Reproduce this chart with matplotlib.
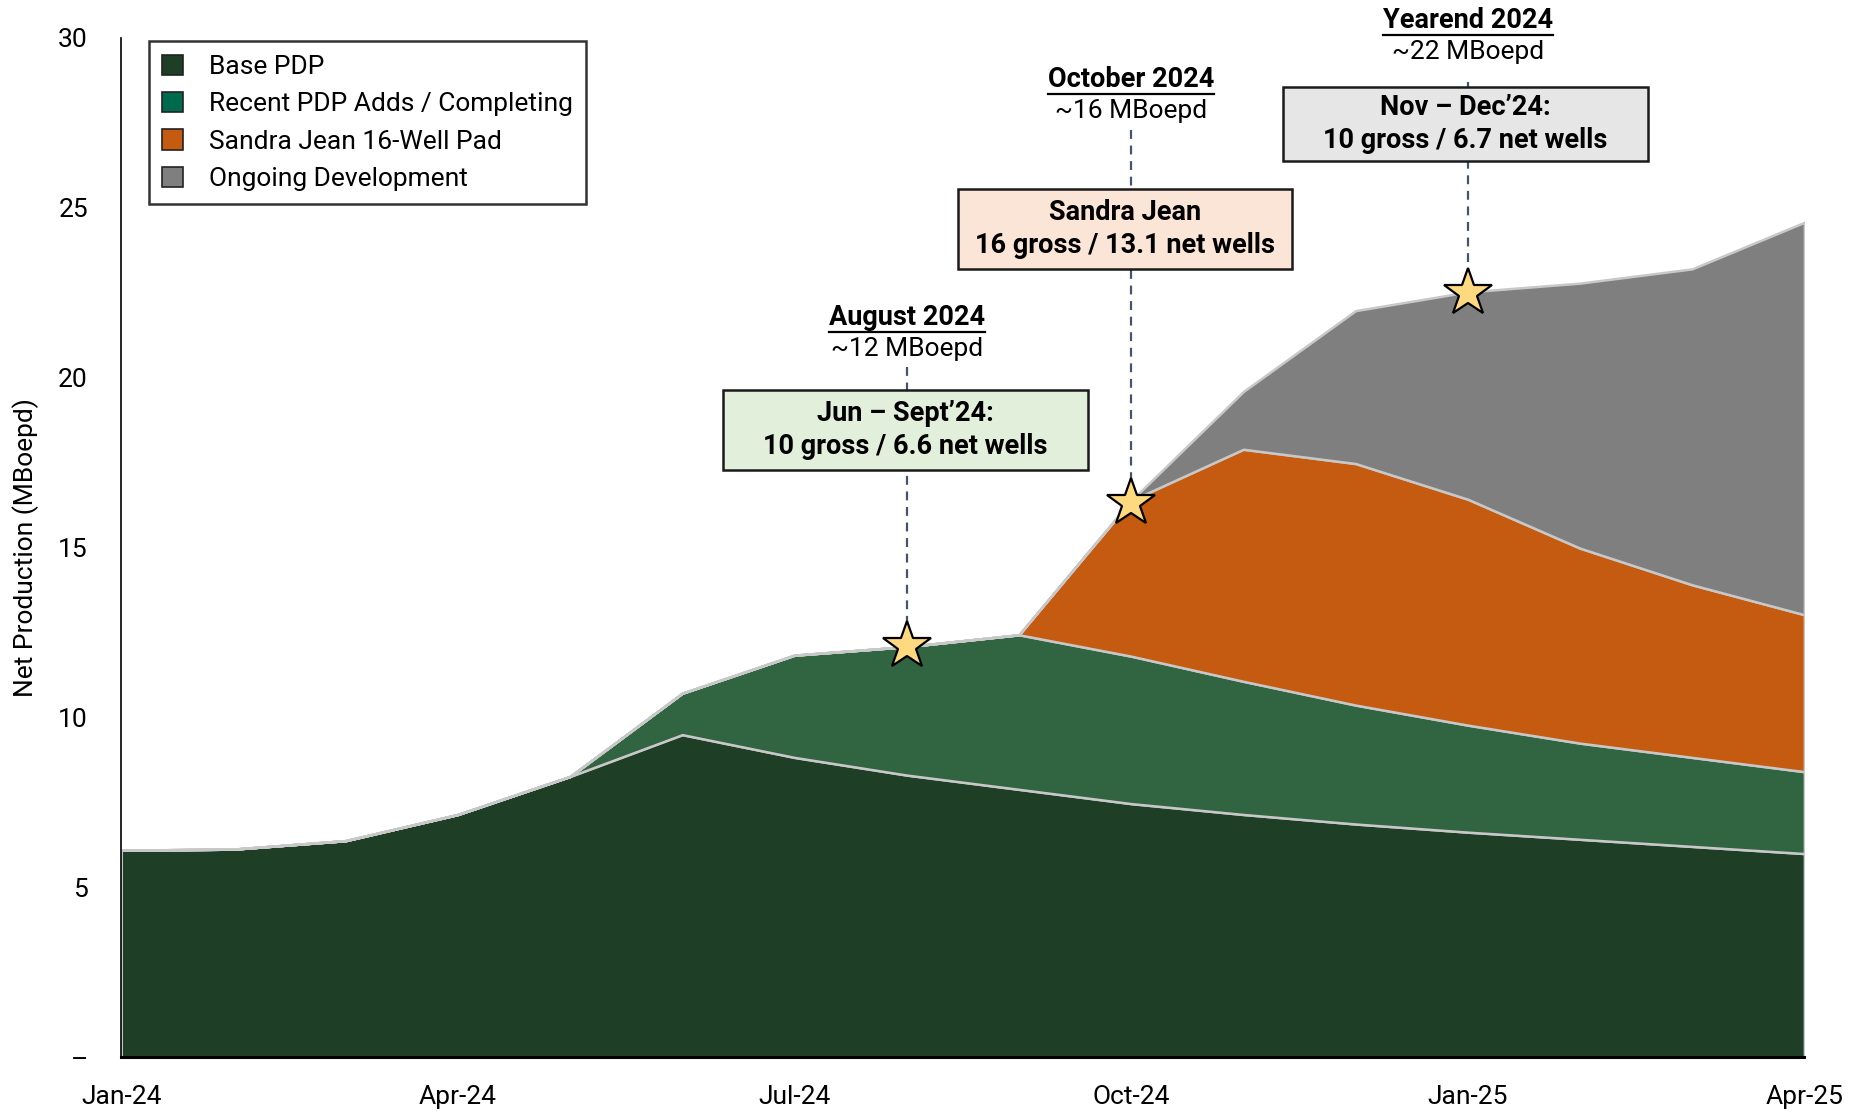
import matplotlib
matplotlib.use("Agg")
import matplotlib.pyplot as plt
import numpy as np
from matplotlib.patches import Patch, Rectangle
from matplotlib.lines import Line2D

plt.rcParams['font.family'] = ['Roboto', 'DejaVu Sans']

months = ["Jan-24", "Feb-24", "Mar-24", "Apr-24", "May-24", "Jun-24", "Jul-24", "Aug-24",
          "Sep-24", "Oct-24", "Nov-24", "Dec-24", "Jan-25", "Feb-25", "Mar-25", "Apr-25"]
base_pdp = [6.09, 6.12, 6.37, 7.14, 8.26, 9.49, 8.82, 8.30, 7.88, 7.46, 7.14, 6.86, 6.62, 6.41, 6.20, 5.99]
recent_pdp = [0, 0, 0, 0, 0, 1.22, 3.01, 3.78, 4.55, 4.34, 3.92, 3.50, 3.15, 2.83, 2.62, 2.41]
sandra_jean = [0, 0, 0, 0, 0, 0, 0, 0, 0, 4.58, 6.83, 7.11, 6.65, 5.74, 5.08, 4.62]
ongoing = [0, 0, 0, 0, 0, 0, 0, 0, 0, 0, 1.70, 4.50, 6.10, 7.80, 9.30, 11.55]
series_names = ["Base PDP", "Recent PDP Adds / Completing", "Sandra Jean 16-Well Pad", "Ongoing Development"]
tick_months = ["Jan-24", "Apr-24", "Jul-24", "Oct-24", "Jan-25", "Apr-25"]
y_ticks = [0, 5, 10, 15, 20, 25, 30]
y_tick_labels = ["–", "5", "10", "15", "20", "25", "30"]

star_months = ["Aug-24", "Oct-24", "Jan-25"]
star_values = [12.1, 16.3, 22.5]
headers = ["August 2024", "October 2024", "Yearend 2024"]
subheaders = ["~12 MBoepd", "~16 MBoepd", "~22 MBoepd"]
box_texts = ["Jun – Sept’24:\n10 gross / 6.6 net wells",
             "Sandra Jean\n16 gross / 13.1 net wells",
             "Nov – Dec’24:\n10 gross / 6.7 net wells"]

area_colors = ["#1E3F26", "#316440", "#C55A11", "#7F7F7F"]
legend_colors = ["#1E3F26", "#006A4E", "#C55A11", "#7F7F7F"]
box_colors = ["#E2EFDA", "#FBE5D6", "#E6E6E6"]

fig = plt.figure(figsize=(18.65, 11.12), dpi=100)
ax = fig.add_axes([0.065, 0.0494, 0.9025, 0.9166])

x = np.arange(len(months))
ax.stackplot(x, base_pdp, recent_pdp, sandra_jean, ongoing, colors=area_colors,
             edgecolor="#C8C8C8", linewidth=1.8, zorder=2)

ax.set_xlim(0, len(months) - 1)
ax.set_ylim(0, 30)
ax.set_xticks([months.index(m) for m in tick_months])
ax.set_xticklabels(tick_months, fontsize=19)
ax.set_yticks(y_ticks)
ax.set_yticklabels(y_tick_labels, fontsize=19)
ax.tick_params(axis='both', length=0)
ax.tick_params(axis='x', pad=20)
ax.tick_params(axis='y', pad=24)
for s in ["top", "right"]:
    ax.spines[s].set_visible(False)
ax.spines["left"].set_linewidth(1.2)
ax.spines["bottom"].set_linewidth(2.2)
ax.spines["left"].set_zorder(5)
ax.spines["bottom"].set_zorder(5)
ax.set_ylabel("Net Production (MBoepd)", fontsize=19, labelpad=14)

# annotation geometry (layout, in data units)
box_x = [(5.36, 8.62), (7.46, 10.43), (10.35, 13.61)]
box_y = [(17.29, 19.64), (23.21, 25.55), (26.36, 28.56)]
header_y = [21.77, 28.77, 30.52]
line_top = [20.3, 27.3, 28.7]

header_texts = []
for i in range(3):
    xm = months.index(star_months[i])
    ax.plot([xm, xm], [line_top[i], star_values[i] + 0.4], linestyle=(0, (4, 3)),
            color="#44546A", linewidth=1.6, zorder=3, clip_on=False)
    ax.add_patch(Rectangle((box_x[i][0], box_y[i][0]), box_x[i][1] - box_x[i][0],
                           box_y[i][1] - box_y[i][0], facecolor=box_colors[i],
                           edgecolor="#1a1a1a", linewidth=1.8, zorder=4))
    cx = (box_x[i][0] + box_x[i][1]) / 2
    cy = (box_y[i][0] + box_y[i][1]) / 2
    ax.text(cx, cy, box_texts[i], ha="center", va="center", fontsize=19.5,
            fontweight="bold", linespacing=1.3, zorder=5)
    t = ax.text(xm, header_y[i], headers[i], ha="center", va="center", fontsize=19.5,
                fontweight="bold", zorder=5, clip_on=False)
    header_texts.append(t)
    ax.text(xm, header_y[i] - 0.93, subheaders[i], ha="center", va="center", fontsize=19,
            zorder=5, clip_on=False)
    ax.plot([xm], [star_values[i]], marker="*", markersize=36, markerfacecolor="#FFD97F",
            markeredgecolor="black", markeredgewidth=1.6, zorder=6, clip_on=False)

handles = [Patch(facecolor=c, edgecolor="#222222", linewidth=1.2) for c in legend_colors]
leg = ax.legend(handles, series_names, loc="upper left", bbox_to_anchor=(0.0163, 0.9965),
                fontsize=19, frameon=True, fancybox=False, edgecolor="black",
                handlelength=0.8, handleheight=0.8, handletextpad=1.0,
                labelspacing=0.5, borderpad=0.5, borderaxespad=0)
leg.get_frame().set_linewidth(1.8)
leg.set_zorder(7)

# underline headers
fig.canvas.draw()
renderer = fig.canvas.get_renderer()
for t in header_texts:
    bb = t.get_window_extent(renderer=renderer)
    yline = bb.y0 - 1
    fig.add_artist(Line2D([bb.x0, bb.x1], [yline, yline], transform=None,
                          color="black", linewidth=1.6))

fig.savefig("out.png", dpi=100)
